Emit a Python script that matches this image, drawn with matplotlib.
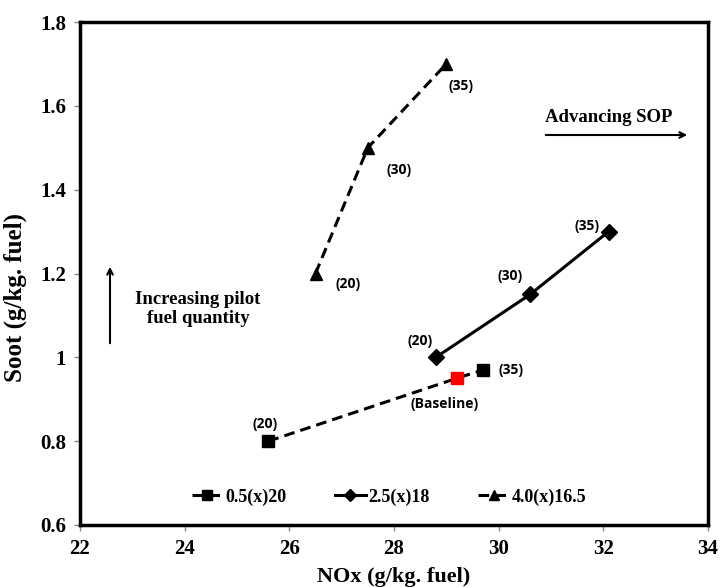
import matplotlib
matplotlib.use("Agg")
import matplotlib.pyplot as plt
from matplotlib.lines import Line2D

# Data
sq_nox = [25.6, 29.7]
sq_soot = [0.80, 0.97]
sq_labels = ["(20)", "(35)"]
base_nox = [29.2]
base_soot = [0.95]
di_nox = [28.8, 30.6, 32.1]
di_soot = [1.00, 1.15, 1.30]
di_labels = ["(20)", "(30)", "(35)"]
tr_nox = [26.5, 27.5, 29.0]
tr_soot = [1.20, 1.50, 1.70]
tr_labels = ["(20)", "(30)", "(35)"]
series_names = ["0.5(x)20", "2.5(x)18", "4.0(x)16.5"]
xticks = [22, 24, 26, 28, 30, 32, 34]
yticks = [0.6, 0.8, 1.0, 1.2, 1.4, 1.6, 1.8]
ytick_labels = ["0.6", "0.8", "1", "1.2", "1.4", "1.6", "1.8"]

serif = "Liberation Serif"
sans = "Open Sans"
dash = (0, (3.5, 2))

fig = plt.figure(figsize=(7.21, 5.87), dpi=100)
ax = fig.add_axes([80/721, 1-525/587, (708-80)/721, (525-22)/587])

ax.plot([sq_nox[0], base_nox[0], sq_nox[1]], [sq_soot[0], base_soot[0], sq_soot[1]],
        linestyle=dash, color="black", lw=2.2)
ax.plot(sq_nox, sq_soot, linestyle="none", marker="s", ms=9, color="black")
ax.plot(base_nox, base_soot, linestyle="none", marker="s", ms=9, color="#ff0000")
ax.plot(di_nox, di_soot, linestyle="-", color="black", lw=2.2, marker="D", ms=8)
ax.plot(tr_nox, tr_soot, linestyle=dash, color="black", lw=2.2, marker="^", ms=9)

ax.set_xlim(22, 34)
ax.set_ylim(0.6, 1.8)
ax.set_xticks(xticks)
ax.set_xticklabels([str(t) for t in xticks])
ax.set_yticks(yticks)
ax.set_yticklabels(ytick_labels)
for lab in ax.get_xticklabels() + ax.get_yticklabels():
    lab.set_fontfamily(serif)
    lab.set_fontweight("bold")
    lab.set_fontsize(15)
ax.tick_params(direction="out", length=4, width=1, color="#888888", pad=6)

for s in ax.spines.values():
    s.set_linewidth(2.5)
    s.set_color("black")

ax.set_xlabel("NOx (g/kg. fuel)", fontfamily=serif, fontweight="bold", fontsize=16, labelpad=6)
ax.set_ylabel("Soot (g/kg. fuel)", fontfamily=serif, fontweight="bold", fontsize=18)
ax.yaxis.set_label_coords(-53/628, (525-298)/503)

ann_kw = dict(textcoords="offset pixels", ha="center", va="center",
              fontfamily=sans, fontweight="bold", fontsize=10)
tr_off = [(33, -10), (31, -22), (15, -22)]
for x, y, t, o in zip(tr_nox, tr_soot, tr_labels, tr_off):
    ax.annotate(t, (x, y), xytext=o, **ann_kw)
di_off = [(-16, 16), (-20, 18), (-22, 6)]
for x, y, t, o in zip(di_nox, di_soot, di_labels, di_off):
    ax.annotate(t, (x, y), xytext=o, **ann_kw)
sq_off = [(-3, 17), (28, 0)]
for x, y, t, o in zip(sq_nox, sq_soot, sq_labels, sq_off):
    ax.annotate(t, (x, y), xytext=o, **ann_kw)
ax.annotate("(Baseline)", (base_nox[0], base_soot[0]), xytext=(-12, -26), **ann_kw)

# Arrows and text
ax.annotate("", xy=(690/721, 1-135/587), xytext=(543/721, 1-135/587),
            xycoords="figure fraction", textcoords="figure fraction",
            arrowprops=dict(arrowstyle="->", lw=1.5, color="black"))
fig.text(609/721, 1-118/587, "Advancing SOP", ha="center", va="center",
         fontfamily=serif, fontweight="bold", fontsize=13.5)
ax.annotate("", xy=(110/721, 1-264/587), xytext=(110/721, 1-346/587),
            xycoords="figure fraction", textcoords="figure fraction",
            arrowprops=dict(arrowstyle="->", lw=1.5, color="black"))
fig.text(198/721, 1-309/587, "Increasing pilot\nfuel quantity", ha="center", va="center",
         fontfamily=serif, fontweight="bold", fontsize=13.5, linespacing=1.15)

h1 = Line2D([], [], linestyle=dash, color="black", lw=2.2, marker="s", ms=7)
h2 = Line2D([], [], linestyle="-", color="black", lw=2.2, marker="D", ms=6)
h3 = Line2D([], [], linestyle=dash, color="black", lw=2.2, marker="^", ms=7)
ax.legend([h1, h2, h3], series_names, loc="center", bbox_to_anchor=(389/721, 1-497/587),
          bbox_transform=fig.transFigure, ncol=3, frameon=False,
          handlelength=1.7, columnspacing=2.7, handletextpad=0.15,
          prop=dict(family=serif, weight="bold", size=13))

fig.savefig("out.png", dpi=100)
